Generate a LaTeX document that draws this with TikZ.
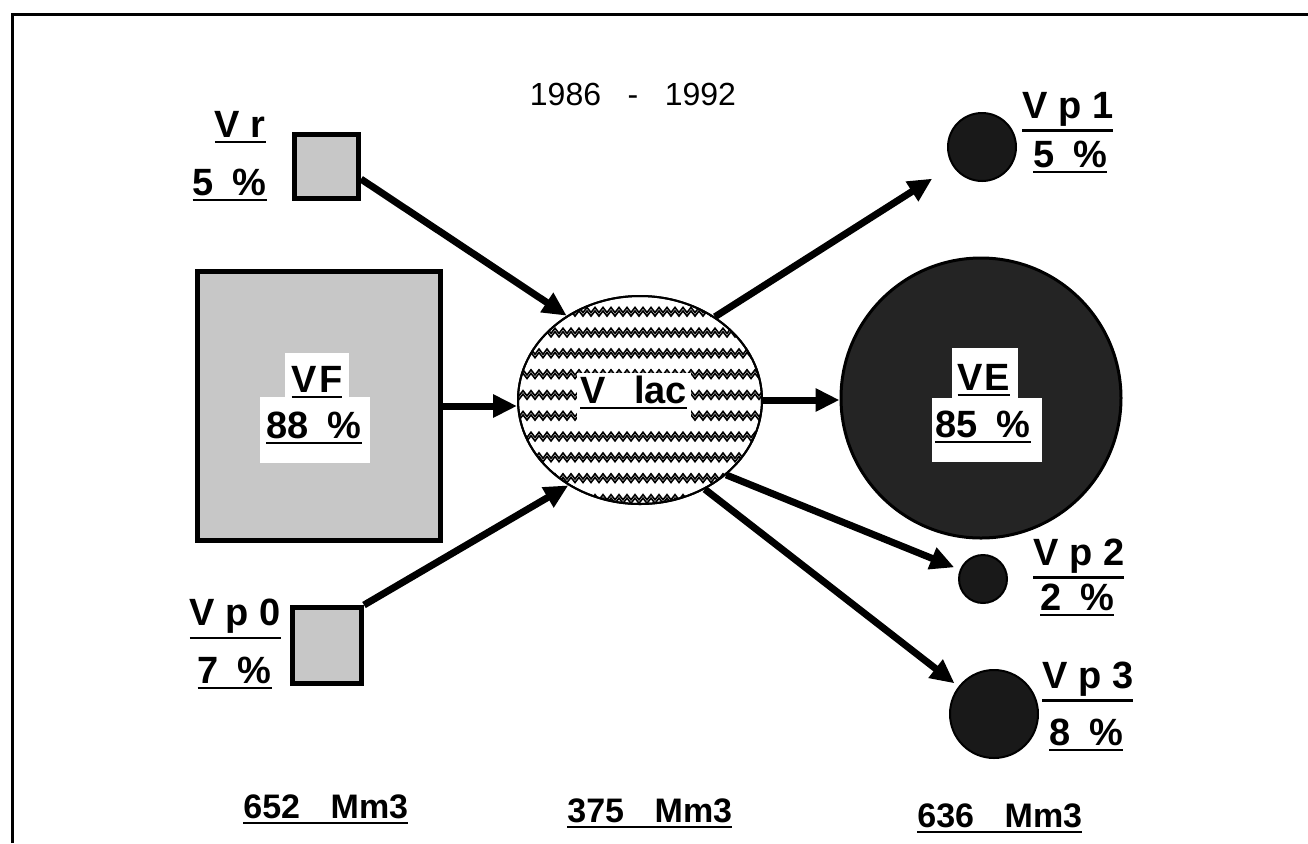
\documentclass[tikz,border=0pt]{standalone}
\usepackage{fontspec}
\setmainfont{Liberation Sans}
\usetikzlibrary{arrows.meta,shapes.geometric,decorations.pathmorphing}
\newcommand\ulx[1]{\vtop{\hbox{#1}\kern1.8pt\hrule height 1.1pt}}
\begin{document}
\begin{tikzpicture}[x=0.5pt,y=-0.5pt,
  sqbox/.style={draw, line width=2.5pt, fill=black!22, inner sep=0pt},
  arr/.style={line width=3.5pt, -{Triangle[length=12pt,width=11pt]}},
  lab/.style={font=\bfseries\fontsize{19}{22}\selectfont, inner sep=0pt},
  vol/.style={font=\bfseries\fontsize{17}{20}\selectfont, inner sep=0pt},
  dotc/.style={circle, draw, line width=1pt, fill=black!90, inner sep=0pt},
  zz/.style={decorate, decoration={zigzag,segment length=4pt,amplitude=1.3pt}, line width=0.8pt}]
\useasboundingbox (0,0) rectangle (1308,843);
% frame
\draw[line width=1.5pt] (12,843) -- (12,14) -- (1308,14);
% title
\node[font=\fontsize{16}{19}\selectfont, anchor=base, inner sep=0pt] (title) at (633,105) {1986\hspace{0.83em}-\hspace{0.83em}1992};
% sources
\node[sqbox, minimum width=32pt, minimum height=32pt] (Vr) at (326.5,166.5) {};
\node[sqbox, minimum width=121.5pt, minimum height=134.5pt] (VF) at (319,406) {};
\node[sqbox, minimum width=34.5pt, minimum height=38pt] (Vp0) at (327,645.5) {};
% lake
\node[ellipse, draw, line width=1pt, minimum width=122pt, minimum height=104pt, inner sep=0pt] (Vlac) at (640,400) {};
\begin{scope}
  \clip (640,400) ellipse [x radius=122, y radius=104];
  \foreach \k in {0,...,10}{
    \pgfmathsetmacro\yy{289.2+20.8*\k}
    \draw[zz] (505,\yy) -- (780,\yy);
    \draw[zz] (505,\yy+3.5) -- (780,\yy+3.5);
  }
\end{scope}
\draw[line width=1pt] (Vlac.center) ellipse [x radius=122, y radius=104];
% outputs
\node[circle, draw, line width=1.5pt, fill=black!86, minimum size=140pt, inner sep=0pt] (VE) at (981,398) {};
\node[dotc, minimum size=34pt] (Vp1) at (982,147) {};
\node[dotc, minimum size=24pt] (Vp2) at (983,579) {};
\node[dotc, minimum size=44pt] (Vp3) at (994,714) {};
% white label boxes
\fill[white] (285,353) rectangle (349,397);
\fill[white] (260,397) rectangle (370,463);
\fill[white] (577,373) rectangle (691,428);
\fill[white] (952,348) rectangle (1018,398);
\fill[white] (932,398) rectangle (1042,462);
% arrows
\draw[arr] (Vr.-20) -- (Vlac.131);
\draw[arr] (VF.east) -- (VF.east -| Vlac.west);
\draw[arr] (Vp0.north east) -- (Vlac.-130);
\draw[arr, shorten >=12pt] (Vlac.48) -- (Vp1);
\draw[arr] (Vlac.east) -- (Vlac.east -| VE.west);
\draw[arr, shorten >=3pt] (Vlac.-41) -- (Vp2);
\draw[arr, shorten >=2.5pt] (Vlac.-54) -- (Vp3);
% labels
\node[lab, anchor=base east] (lVr) at (266,137) {\ulx{V r}};
\node[lab, anchor=base east] (pVr) at (267,195) {\ulx{5\hspace{0.5em}\%}};
\node[lab, anchor=base east] (lVp0) at (281,625) {\ulx{V p 0}};
\node[lab, anchor=base east] (pVp0) at (272,683) {\ulx{7\hspace{0.5em}\%}};
\node[lab, anchor=base] (lVF) at (317,392) {\ulx{V\kern1pt F}};
\node[lab, anchor=base] (pVF) at (314,438) {\ulx{88\hspace{0.5em}\%}};
\node[lab, anchor=base west] (lVlac) at (580,403) {\ulx{V\hspace{0.75em}lac}};
\node[lab, anchor=base] (lVE) at (984,390) {\ulx{V\kern1pt E}};
\node[lab, anchor=base] (pVE) at (983,437) {\ulx{85\hspace{0.5em}\%}};
\node[lab, anchor=base west] (lVp1) at (1022,118) {\ulx{V p 1}};
\node[lab, anchor=base west] (pVp1) at (1033,167) {\ulx{5\hspace{0.5em}\%}};
\node[lab, anchor=base west] (lVp2) at (1033,565) {\ulx{V p 2}};
\node[lab, anchor=base west] (pVp2) at (1040,610) {\ulx{2\hspace{0.5em}\%}};
\node[lab, anchor=base west] (lVp3) at (1042,688) {\ulx{V p 3}};
\node[lab, anchor=base west] (pVp3) at (1049,745) {\ulx{8\hspace{0.5em}\%}};
% totals
\node[vol, anchor=base west] (t1) at (243,818) {\ulx{652\hspace{0.9em}Mm3}};
\node[vol, anchor=base west] (t2) at (567,822) {\ulx{375\hspace{0.9em}Mm3}};
\node[vol, anchor=base west] (t3) at (917,827) {\ulx{636\hspace{0.9em}Mm3}};
\end{tikzpicture}
\end{document}
